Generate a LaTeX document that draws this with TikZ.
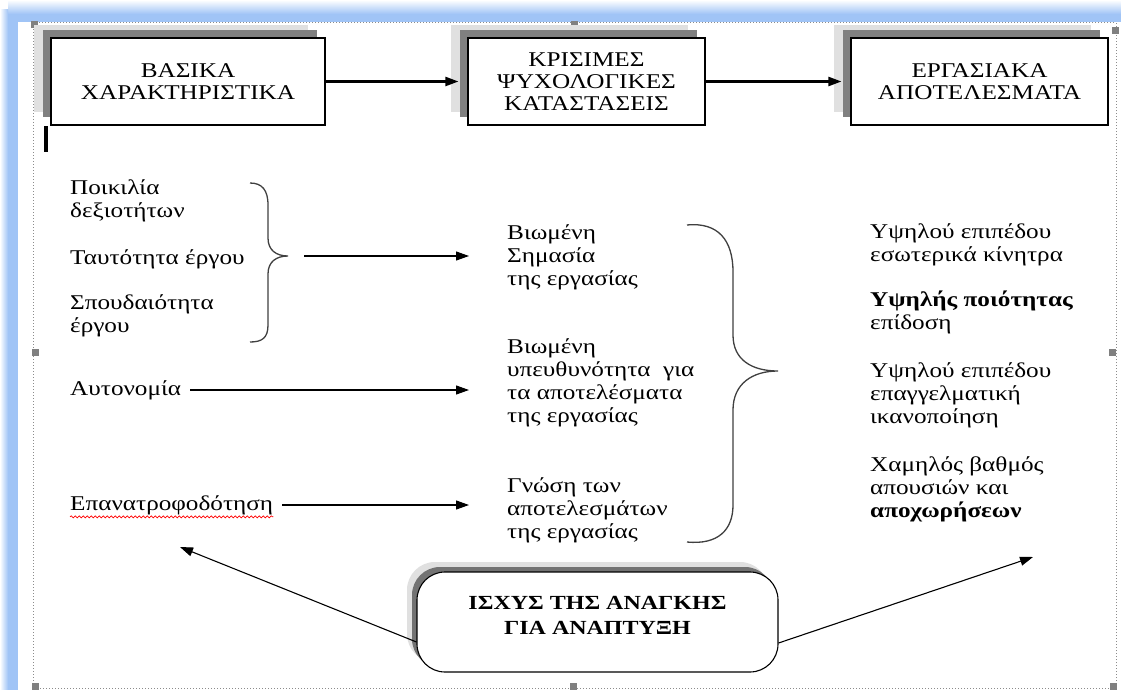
\documentclass[tikz,border=0pt]{standalone}
\usepackage{fontspec}
\setmainfont{Liberation Serif}[FakeStretch=1.2]
\usetikzlibrary{arrows.meta,shadows,decorations.pathmorphing}
\definecolor{framebl}{RGB}{160,196,246}

\begin{document}
\begin{tikzpicture}[x=1pt, y=-1pt,
  tbox/.style={draw, line width=1.1pt, fill=white, minimum height=87pt, align=center,
    font=\fontsize{21}{22}\selectfont,
    general shadow={shadow xshift=-17pt, shadow yshift=13pt, fill=black!12},
    general shadow={shadow xshift=-8pt, shadow yshift=8pt, fill=black!50}},
  need/.style={draw, line width=1.1pt, fill=white, rounded corners=28pt, minimum width=361pt,
    minimum height=100pt, align=center, text depth=14pt,
    font=\fontsize{20}{25}\selectfont\bfseries,
    general shadow={shadow xshift=-10pt, shadow yshift=10pt, fill=black!12},
    general shadow={shadow xshift=-5pt, shadow yshift=5pt, fill=black!55}},
  lbl/.style={anchor=west, align=left, inner sep=0pt, font=\fontsize{21}{23}\selectfont},
  arr/.style={-{Triangle[length=13pt, width=9pt]}, line width=1.1pt},
  brc/.style={line width=1.3pt, black!75}]
  \useasboundingbox (0,0) rectangle (1121,690);
  % window frame and selection marks
  \shade[top color=white, bottom color=framebl] (8,0) rectangle (1121,14);
  \shade[left color=white, right color=framebl] (0,10) rectangle (8,690);
  \fill[framebl] (8,14) rectangle (1121,22);
  \fill[framebl] (8,14) rectangle (18,690);
  \fill[white] (18,22) rectangle (1121,690);
  \draw[black!45, dotted, line width=1pt] (33,23) rectangle (1116,688);
  \foreach \hx/\hy in {34/25, 574/25, 1115/31, 35/352, 1112/352, 35/686, 573/686, 1113/686}
    \fill[black!50] (\hx-3.5,\hy-3.5) rectangle (\hx+3.5,\hy+3.5);
  \fill (44,126) rectangle (48,152);

  % top row
  \node[tbox, minimum width=274pt] (basic) at (188,81.5) {ΒΑΣΙΚΑ\\ΧΑΡΑΚΤΗΡΙΣΤΙΚΑ};
  \node[tbox, minimum width=237pt] (states) at (586.5,81.5) {ΚΡΙΣΙΜΕΣ\\ΨΥΧΟΛΟΓΙΚΕΣ\\ΚΑΤΑΣΤΑΣΕΙΣ};
  \node[tbox, minimum width=257pt] (outcomes) at (979.5,81.5) {ΕΡΓΑΣΙΑΚΑ\\ΑΠΟΤΕΛΕΣΜΑΤΑ};
  \draw[arr, line width=2.2pt] (basic.east) -- ([xshift=-9pt]states.west);
  \draw[arr, line width=2.2pt] (states.east) -- ([xshift=-9pt]outcomes.west);

  % job characteristics
  \node[lbl] (variety) at (70,201) {Ποικιλία\\δεξιοτήτων};
  \node[lbl] (identity) at (70,259) {Ταυτότητα έργου};
  \node[lbl] (signif) at (70,316) {Σπουδαιότητα\\έργου};
  \node[lbl] (autonomy) at (70,390) {Αυτονομία};
  \node[lbl] (feedback) at (70,505) {Επανατροφοδότηση};
  \draw[red, line width=0.7pt, decorate, decoration={snake, amplitude=1pt, segment length=4pt}]
    ([yshift=-2pt]feedback.south west) -- ([yshift=-2pt]feedback.south east);

  % psychological states
  \node[lbl] (meaning) at (507,257) {Βιωμένη\\Σημασία\\της εργασίας};
  \node[lbl] (respons) at (507,383) {Βιωμένη\\υπευθυνότητα \ για\\τα αποτελέσματα\\της εργασίας};
  \node[lbl] (knowl) at (507,510) {Γνώση των\\αποτελεσμάτων\\της εργασίας};

  % outcomes
  \node[lbl] (motiv) at (870,245) {Υψηλού επιπέδου\\εσωτερικά κίνητρα};
  \node[lbl] (perform) at (870,312) {\textbf{Υψηλής ποιότητας}\\επίδοση};
  \node[lbl] (satisf) at (870,395) {Υψηλού επιπέδου\\επαγγελματική\\ικανοποίηση};
  \node[lbl] (absence) at (870,489) {Χαμηλός βαθμός\\απουσιών και\\\textbf{αποχωρήσεων}};

  % braces
  \draw[brc] (250,183) .. controls (262,183) and (268,190) .. (268,205) -- (268,238)
    .. controls (268,250) and (276,256) .. (288,256)
    .. controls (276,256) and (268,262) .. (268,274) -- (268,325)
    .. controls (268,338) and (262,342) .. (250,342);
  \coordinate (ltip) at (288,256);
  \draw[brc] (687,225) .. controls (718,222) and (733,240) .. (733,272) -- (733,335)
    .. controls (733,360) and (752,371) .. (778,371)
    .. controls (752,371) and (733,384) .. (733,410) -- (733,505)
    .. controls (733,530) and (718,545) .. (687,542);

  \draw[arr] ([xshift=16pt]ltip) -- ([xshift=-38pt]ltip -| meaning.west);
  \draw[arr] ([xshift=9pt]autonomy.east) -- ([xshift=-38pt]autonomy -| respons.west);
  \draw[arr] ([xshift=9pt]feedback.east) -- ([xshift=-38pt]feedback -| knowl.west);

  % growth need strength
  \node[need] (need) at (597.5,622) {ΙΣΧΥΣ ΤΗΣ ΑΝΑΓΚΗΣ\\ΓΙΑ ΑΝΑΠΤΥΞΗ};
  \coordinate (lend) at (180,547);
  \coordinate (rend) at (1033,557);
  \draw[arr] ([yshift=-20pt]need.west) -- (lend);
  \draw[arr] ([yshift=-21pt]need.east) -- (rend);
\end{tikzpicture}
\end{document}
